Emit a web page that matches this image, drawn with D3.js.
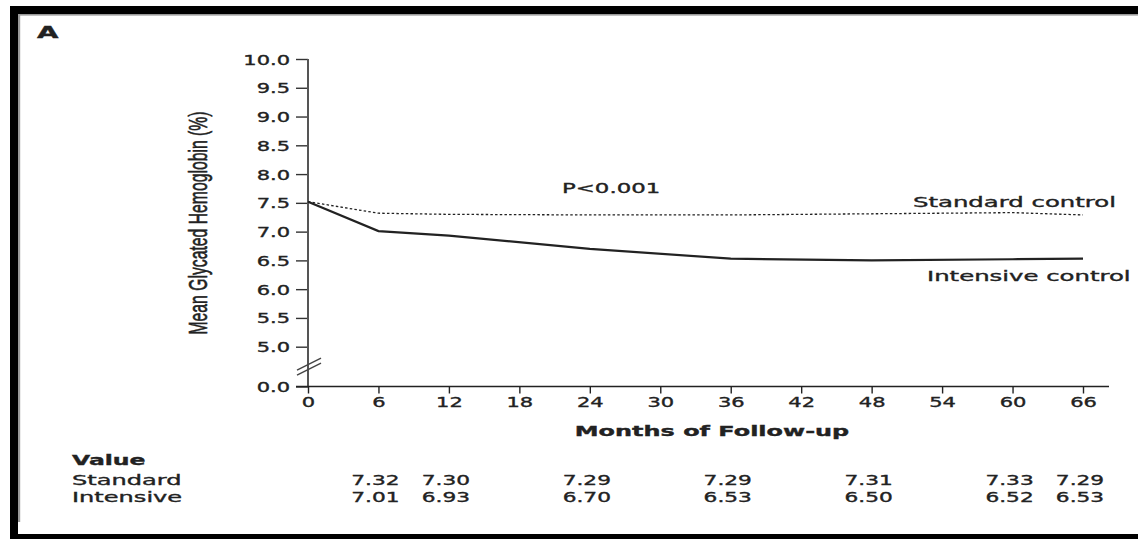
<!DOCTYPE html>
<html><head><meta charset="utf-8">
<script src="https://cdn.jsdelivr.net/npm/d3@7"></script>
<style>
html,body{margin:0;padding:0;background:#fff;}
svg{display:block;}
text{font-family:"DejaVu Sans",sans-serif;fill:#222;stroke:#222;stroke-width:0.35px;}
</style></head>
<body>
<svg id="chart" width="1138" height="539"></svg>
<script>
// ---- data ----
const months = [0, 6, 12, 24, 36, 48, 60, 66];
const standardValues = [7.52, 7.32, 7.30, 7.29, 7.29, 7.31, 7.33, 7.29];
const intensiveValues = [7.52, 7.01, 6.93, 6.70, 6.53, 6.50, 6.52, 6.53];
const xTicks = [0, 6, 12, 18, 24, 30, 36, 42, 48, 54, 60, 66];
const yTicks = [0, 5.0, 5.5, 6.0, 6.5, 7.0, 7.5, 8.0, 8.5, 9.0, 9.5, 10.0];
const seriesNames = ["Standard control", "Intensive control"];
const rowNames = ["Standard", "Intensive"];

const svg = d3.select("#chart");
const W = 1138, H = 539;
const SX = 1.5; // horizontal stretch of the original typesetting

// frame
svg.append("rect").attr("x",0).attr("y",0).attr("width",W).attr("height",H).attr("fill","#fff");
svg.append("rect").attr("x",10).attr("y",6).attr("width",W-10).attr("height",8).attr("fill","#000");
svg.append("rect").attr("x",10).attr("y",6).attr("width",8).attr("height",H-6).attr("fill","#000");
svg.append("rect").attr("x",10).attr("y",534).attr("width",W-10).attr("height",5).attr("fill","#000");
svg.append("rect").attr("x",18).attr("y",14).attr("width",W-18).attr("height",1.6).attr("fill","#9a9a9a");
svg.append("rect").attr("x",18).attr("y",14).attr("width",2.2).attr("height",508).attr("fill","#9a9a9a");

// scales (broken y axis: 0 then 5..10)
const x = d3.scaleLinear().domain([0, 66]).range([308, 1083]);
const y = d3.scaleLinear().domain([0, 5, 10]).range([386.5, 346.7, 59]);

// y axis
const gy = svg.append("g").attr("transform","translate(308,0)")
  .call(d3.axisLeft(y).tickValues(yTicks).tickSize(12).tickSizeOuter(0).tickPadding(0)
    .tickFormat(d3.format(".1f")));
gy.select(".domain").remove();
gy.selectAll(".tick line").attr("stroke","#333").attr("stroke-width",1.4);
gy.selectAll(".tick text").attr("x", -18/SX).attr("dy","0.36em")
  .attr("transform",`scale(${SX},1)`).style("font-size","14px").attr("fill","#222");
svg.append("line").attr("x1",308).attr("x2",308).attr("y1",y(10)).attr("y2",y(0))
  .attr("stroke","#555").attr("stroke-width",2);

// x axis
const gx = svg.append("g").attr("transform",`translate(0,${y(0)})`)
  .call(d3.axisBottom(x).tickValues(xTicks).tickSize(7).tickSizeOuter(0).tickPadding(4));
gx.select(".domain").remove();
gx.selectAll(".tick line").attr("stroke","#222").attr("stroke-width",1.4);
gx.selectAll(".tick text").attr("transform",`scale(${SX},1)`).style("font-size","14px").attr("fill","#222");
svg.append("line").attr("x1",296).attr("x2",1109).attr("y1",y(0)).attr("y2",y(0))
  .attr("stroke","#222").attr("stroke-width",1.4);

// axis break marks
const yb = y(2.5);
[-2.5, 2.5].forEach(off => {
  svg.append("line").attr("x1",297).attr("y1",yb+6+off).attr("x2",321).attr("y2",yb-6+off)
    .attr("stroke","#444").attr("stroke-width",1.3);
});

// lines
const line = d3.line().x(d => x(d[0])).y(d => y(d[1]));
svg.append("path").datum(d3.zip(months, standardValues)).attr("d", line)
  .attr("fill","none").attr("stroke","#222").attr("stroke-width",1.3).attr("stroke-dasharray","2.5,2.2");
svg.append("path").datum(d3.zip(months, intensiveValues)).attr("d", line)
  .attr("fill","none").attr("stroke","#222").attr("stroke-width",2.2);

// helper for stretched text
function label(txt, px, py, opts) {
  const o = Object.assign({size:14, weight:"normal", anchor:"start", sx:SX}, opts||{});
  return svg.append("text").text(txt)
    .attr("transform",`translate(${px},${py}) scale(${o.sx},1)`)
    .attr("text-anchor",o.anchor)
    .style("font-size",o.size+"px").style("font-weight",o.weight);
}

label("A", 37, 38, {size:15, weight:"bold", sx:1.85});
label("P<0.001", 562, 193, {size:14, sx:1.63});
label(seriesNames[0], 913, 207, {size:14, sx:1.74});
label(seriesNames[1], 927, 281, {size:14, sx:1.74});
label("Months of Follow-up", 712, 436, {size:14, weight:"bold", anchor:"middle", sx:1.71});

// y axis title
svg.append("text").text("Mean Glycated Hemoglobin (%)")
  .attr("transform","translate(207,223) rotate(-90) scale(1.05,1.75)")
  .attr("text-anchor","middle")
  .style("font-family","'Liberation Sans',Arial,sans-serif").style("font-size","15px");

// value table
label("Value", 72, 465, {size:14, weight:"bold", sx:1.68});
label(rowNames[0], 72, 485, {size:14, sx:1.72});
label(rowNames[1], 72, 502, {size:14, sx:1.72});
const fmt = d3.format(".2f");
[standardValues, intensiveValues].forEach((vals, r) => {
  months.forEach((m, i) => {
    if (m === 0) return;
    label(fmt(vals[i]), x(m) - 3, r === 0 ? 485 : 502, {size:14, anchor:"middle", sx:1.55});
  });
});
</script>
</body></html>
